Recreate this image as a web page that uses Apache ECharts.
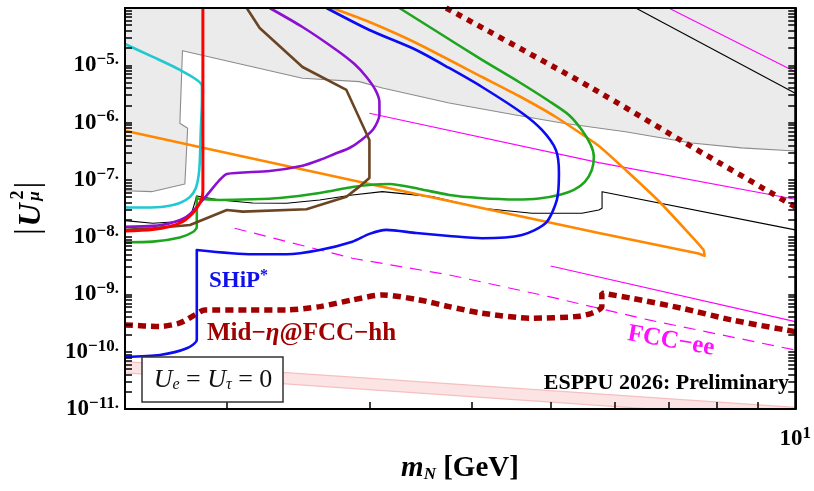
<!DOCTYPE html>
<html><head><meta charset="utf-8">
<script src="https://cdn.jsdelivr.net/npm/echarts@6/dist/echarts.min.js"></script>
<style>html,body{margin:0;padding:0;background:#fff}#c{width:814px;height:491px}</style>
</head><body><div id="c"></div>
<script>
// ---------- axis structure ----------
const xMin = 1.5, xMax = 10;
const yMin = 1e-11, yMax = 1e-4;
const xTickValues = [2, 3, 4, 5, 6, 7, 8, 9];
const yLabelExponents = [-11, -10, -9, -8, -7, -6, -5];
const xLabelValues = [10];

// ---------- curves: [m_N (GeV), |U_mu|^2] ----------
const greyBoundary = [[1.5,6.47e-8],[1.617,6.22e-8],[1.777,8.47e-8],[1.791,7.96e-7],[1.752,9.73e-7],[1.765,1.80e-5],[2.479,5.93e-6],[2.912,5.18e-6],[3.108,4.02e-6],[3.755,2.20e-6],[4.532,1.36e-6],[5.166,9.84e-7],[6.184,6.93e-7],[7.456,4.41e-7],[8.587,3.61e-7],[10,3.19e-7]];
const cyan = [[1.5,2.35e-5],[1.623,1.40e-5],[1.752,8.28e-6],[1.865,4.36e-6],[1.865,2.48e-6],[1.859,7.43e-7],[1.854,2.22e-7],[1.848,1.22e-7],[1.833,7.23e-8],[1.803,5.04e-8],[1.752,3.95e-8],[1.680,3.43e-8],[1.587,3.30e-8],[1.5,3.30e-8]];
const red = [[1.870,1e-4],[1.870,2.48e-6],[1.870,6.67e-8],[1.865,4.83e-8],[1.848,3.65e-8],[1.818,2.64e-8],[1.767,1.88e-8],[1.704,1.54e-8],[1.623,1.36e-8],[1.5,1.28e-8]];
const orange = [[1.5,7.22e-7],[2.996,8.48e-8],[5.735,1.18e-8],[7.605,5.19e-9],[7.736,4.70e-9],[7.714,5.98e-9],[7.333,1.34e-8],[6.794,4.28e-8],[6.188,1.49e-7],[5.735,3.91e-7],[5.079,1.25e-6],[4.575,2.91e-6],[4.121,6.25e-6],[3.421,2.45e-5],[2.996,5.70e-5],[2.698,1e-4]];
const green = [[3.261,1e-4],[3.650,3.66e-5],[4.121,1.24e-5],[4.575,5.11e-6],[4.980,2.38e-6],[5.269,1.36e-6],[5.466,7.43e-7],[5.607,4.06e-7],[5.655,2.51e-7],[5.622,1.49e-7],[5.512,9.19e-8],[5.344,6.67e-8],[5.123,5.45e-8],[4.840,4.73e-8],[4.537,4.55e-8],[4.087,4.83e-8],[3.755,5.45e-8],[3.450,6.94e-8],[3.170,8.48e-8],[2.996,8.15e-8],[2.855,7.52e-8],[2.602,5.91e-8],[2.323,4.83e-8],[2.153,4.58e-8],[1.961,4.46e-8],[1.843,4.73e-8],[1.838,5.13e-8],[1.838,1.51e-8],[1.818,1.23e-8],[1.752,9.88e-9],[1.623,8.34e-9],[1.5,8.15e-9]];
const purple = [[2.259,1e-4],[2.479,4.66e-5],[2.729,1.85e-5],[2.872,1.05e-5],[2.971,6.25e-6],[3.047,3.71e-6],[3.082,2.29e-6],[3.082,1.36e-6],[3.030,7.73e-7],[2.929,4.97e-7],[2.831,3.60e-7],[2.714,2.83e-7],[2.602,2.22e-7],[2.479,1.77e-7],[2.259,1.43e-7],[2.001,1.27e-7],[1.961,9.96e-8],[1.870,4.46e-8],[1.787,2.28e-8],[1.704,1.75e-8],[1.623,1.57e-8],[1.5,1.52e-8]];
const brown = [[2.117,1e-4],[2.196,4.48e-5],[2.479,9.34e-6],[2.807,3.71e-6],[2.996,4.97e-7],[2.996,1.08e-7],[2.912,7.61e-8],[2.807,5.09e-8],[2.507,3.07e-8],[2.093,2.79e-8],[2.001,2.98e-8],[1.803,1.63e-8],[1.623,1.43e-8],[1.5,1.34e-8]];
const ship = [[2.653,1e-4],[2.996,4.13e-5],[3.421,1.85e-5],[3.755,8.97e-6],[4.121,4.18e-6],[4.614,1.47e-6],[4.882,7.43e-7],[5.079,3.32e-7],[5.123,1.32e-7],[5.093,4.46e-8],[4.937,1.77e-8],[4.614,1.09e-8],[4.121,9.57e-9],[3.755,1.05e-8],[3.421,1.18e-8],[3.143,1.34e-8],[2.996,1.14e-8],[2.855,8.34e-9],[2.602,5.98e-9],[2.370,5.03e-9],[2.153,5.03e-9],[1.838,5.98e-9],[1.838,1.61e-10],[1.787,1.15e-10],[1.656,8.79e-11],[1.5,8.12e-11]];
const blackLow = [[1.5,1.94e-8],[1.623,1.75e-8],[1.752,1.87e-8],[1.813,2.75e-8],[1.838,5.24e-8],[1.961,4.46e-8],[2.153,3.95e-8],[2.370,3.90e-8],[2.602,4.46e-8],[2.855,5.45e-8],[3.108,6.22e-8],[3.578,5.09e-8],[4.121,3.19e-8],[4.747,2.61e-8],[5.466,2.61e-8],[5.735,2.98e-8],[5.788,3.19e-8],[5.788,6.22e-8],[10,1.34e-8]];
const blackTop = [[6.366,1e-4],[10,3.25e-6]];
const fccee1 = [[6.989,1e-4],[10,7.73e-6]];
const fccee2 = [[2.996,1.45e-6],[5.735,2.00e-7],[10,4.58e-8]];
const fccee3 = [[5.004,3.14e-9],[10,3.35e-10]];
const fcceeDashed = [[2.046,1.43e-8],[2.855,4.28e-9],[3.755,2.19e-9],[4.980,9.16e-10],[6.604,3.59e-10],[10,1.07e-10]];
const fcchhTop = [[3.723,1e-4],[5.622,4.02e-6],[7.456,3.80e-7],[10,3.37e-8]];
const fcchhMid = [[1.5,2.94e-10],[1.656,2.76e-10],[1.752,3.18e-10],[1.828,4.39e-10],[1.880,5.36e-10],[2.135,5.36e-10],[2.370,5.36e-10],[2.602,6.12e-10],[2.855,8.02e-10],[3.108,9.80e-10],[3.450,8.02e-10],[3.755,6.12e-10],[4.121,4.70e-10],[4.747,3.84e-10],[5.374,4.10e-10],[5.622,4.70e-10],[5.784,6.12e-10],[5.784,1.05e-9],[6.295,8.58e-10],[7.250,5.74e-10],[8.350,3.59e-10],[10,2.24e-10]];
const seesawUpper = [[1.5,6.72e-11],[10,1.07e-11]];
const seesawLower = [[1.5,4.27e-11],[10,6.72e-12]];

// ---------- derived tick lists ----------
const yTickValues = [];
yLabelExponents.forEach(e => { for (let m = 1; m <= 9; m++) yTickValues.push(Number((m * Math.pow(10, e)).toPrecision(3))); });
yTickValues.push(yMax);
const yLabelValues = yLabelExponents.map(e => Number(Math.pow(10, e).toPrecision(3)));

const SERIF = "'Liberation Serif','DejaVu Serif',serif";
const F = (spec) => spec + " 'Liberation Serif','DejaVu Serif',serif";

function line(name, data, color, width, extra) {
  return Object.assign({
    name, type: 'line', data, showSymbol: false, symbol: 'none', silent: true,
    lineStyle: { color, width, cap: 'butt', join: 'round' }, clip: true, z: 3
  }, extra || {});
}
function poly(points, style, z) {
  return {
    type: 'custom', coordinateSystem: 'cartesian2d', clip: true, silent: true, z,
    data: [[points[0][0], points[0][1]]],
    renderItem: (params, api) => ({ type: 'polygon', shape: { points: points.map(p => api.coord(p)) }, style })
  };
}
const ctr = { align: 'center', verticalAlign: 'middle', textAlign: 'center', textVerticalAlign: 'middle' };

const labelRich = {
  b: { fontFamily: SERIF, fontWeight: 'bold', fontSize: 23, color: '#000' },
  s: { fontFamily: SERIF, fontWeight: 'bold', fontSize: 17, color: '#000', padding: [0, 0, 11, 0] }
};

const chart = echarts.init(document.getElementById('c'), null, { renderer: 'canvas' });
chart.setOption({
  animation: false,
  backgroundColor: '#fff',
  grid: { left: 125, right: 17, top: 8, bottom: 82, show: true, borderColor: '#000', borderWidth: 2, backgroundColor: 'transparent', z: 10 },
  xAxis: [{
    type: 'log', logBase: 10, min: xMin, max: xMax,
    axisLine: { show: true, lineStyle: { color: '#000', width: 2 } },
    axisTick: { show: true, inside: true, length: 7, customValues: xTickValues, lineStyle: { color: '#000', width: 1.5 } },
    axisLabel: { show: true, customValues: xLabelValues, margin: 16, showMaxLabel: true,
      formatter: v => Math.abs(v - 10) < 1e-6 ? '{b|10}{s|1}' : '', rich: labelRich },
    splitLine: { show: false }, z: 10
  }],
  yAxis: [{
    type: 'log', logBase: 10, min: yMin, max: yMax, position: 'left',
    axisLine: { show: true, lineStyle: { color: '#000', width: 2 } },
    axisTick: { show: true, inside: true, length: 7, customValues: yTickValues, lineStyle: { color: '#000', width: 1.5 } },
    axisLabel: { show: true, customValues: yLabelValues, margin: 6, showMinLabel: true,
      formatter: v => { const e = Math.round(Math.log10(v)); return '{b|10}{s|\u2212' + (-e) + '.}'; }, rich: labelRich },
    splitLine: { show: false }, z: 10
  }, {
    type: 'log', logBase: 10, min: yMin, max: yMax, position: 'right',
    axisLine: { show: true, lineStyle: { color: '#000', width: 2 } },
    axisTick: { show: true, inside: true, length: 7, customValues: yTickValues, lineStyle: { color: '#000', width: 1.5 } },
    axisLabel: { show: false }, splitLine: { show: false }, z: 10
  }],
  series: [
    poly([[xMin, yMax]].concat(greyBoundary, [[xMax, yMax]]), { fill: '#ebebeb' }, 0),
    line('greyBoundary', greyBoundary, '#8c8c8c', 1.1, { z: 1 }),
    poly(seesawUpper.concat(seesawLower.slice().reverse()), { fill: 'rgba(250,185,185,0.38)', stroke: '#f6c0c0', lineWidth: 1.3 }, 1),
    line('blackLow', blackLow, '#000', 1.1),
    line('blackTop', blackTop, '#000', 1.1),
    line('fccee1', fccee1, '#ff00ff', 1.1),
    line('fccee2', fccee2, '#ff00ff', 1.1),
    line('fccee3', fccee3, '#ff00ff', 1.1),
    line('fcceeDashed', fcceeDashed, '#ff00ff', 1.2, { lineStyle: { color: '#ff00ff', width: 1.2, type: [12, 8] } }),
    line('orange', orange, '#ff8800', 2.6, { smooth: 0.15 }),
    line('green', green, '#1ea51e', 2.6, { smooth: 0.25 }),
    line('purple', purple, '#8c10d2', 2.6, { smooth: 0.25 }),
    line('brown', brown, '#6b4424', 2.6),
    line('cyan', cyan, '#22c8d0', 2.6, { smooth: 0.25 }),
    line('ship', ship, '#0c0cf2', 2.6, { smooth: 0.25, z: 4 }),
    line('red', red, '#ff0000', 3, { smooth: 0.3, z: 4 }),
    line('fcchhTop', fcchhTop, '#a00000', 5.5, { smooth: 0.2, z: 5, lineStyle: { color: '#a00000', width: 5.5, type: [6, 6], cap: 'butt' } }),
    line('fcchhMid', fcchhMid, '#a00000', 5.5, { smooth: 0.25, z: 5, lineStyle: { color: '#a00000', width: 5.5, type: [8, 5], cap: 'butt' } })
  ],
  graphic: [
    { type: 'rect', shape: { x: 142, y: 357, width: 141, height: 45 }, style: { fill: '#fff', stroke: '#333', lineWidth: 1.5 }, z: 20 },
    { type: 'text', x: 213, y: 380, z: 21, style: Object.assign({ text: '{i|U}{sb|e}{n| = }{i|U}{sb|\u03c4}{n| = 0}',
      rich: { i: { fontFamily: SERIF, fontStyle: 'italic', fontSize: 26, fill: '#111' }, sb: { fontFamily: SERIF, fontStyle: 'italic', fontSize: 16, fill: '#111', padding: [9, 0, 0, 0] }, n: { fontFamily: SERIF, fontSize: 26, fill: '#111' } } }, ctr) },
    { type: 'text', x: 209, y: 281, z: 21, style: { text: '{t|SHiP}{u|*}', align: 'left', verticalAlign: 'middle', textAlign: 'left', textVerticalAlign: 'middle',
      rich: { t: { fontFamily: SERIF, fontWeight: 'bold', fontSize: 23, fill: '#1010ee' }, u: { fontFamily: SERIF, fontWeight: 'bold', fontSize: 16, fill: '#1010ee', padding: [0, 0, 10, 0] } } } },
    { type: 'text', x: 207, y: 334, z: 21, style: { text: '{t|Mid\u2212}{e|\u03b7}{t|@FCC\u2212hh}', align: 'left', verticalAlign: 'middle', textAlign: 'left', textVerticalAlign: 'middle',
      rich: { t: { fontFamily: SERIF, fontWeight: 'bold', fontSize: 25, fill: '#a00000' }, e: { fontFamily: SERIF, fontWeight: 'bold', fontStyle: 'italic', fontSize: 25, fill: '#a00000' } } } },
    { type: 'text', x: 671, y: 341, rotation: -0.17, z: 21, style: Object.assign({ text: 'FCC\u2212ee', font: F('bold 25px'), fill: '#ff10ff' }, ctr) },
    { type: 'text', x: 789, y: 383, z: 21, style: { text: 'ESPPU 2026: Preliminary', font: F('bold 22px'), fill: '#000', align: 'right', verticalAlign: 'middle', textAlign: 'right', textVerticalAlign: 'middle' } },
    { type: 'text', x: 460, y: 469, z: 21, style: Object.assign({ text: '{m|m}{sb|N}{n| [GeV]}',
      rich: { m: { fontFamily: SERIF, fontWeight: 'bold', fontStyle: 'italic', fontSize: 29, fill: '#000' }, sb: { fontFamily: SERIF, fontWeight: 'bold', fontStyle: 'italic', fontSize: 17, fill: '#000', padding: [11, 0, 0, 0] }, n: { fontFamily: SERIF, fontWeight: 'bold', fontSize: 29, fill: '#000' } } }, ctr) },
    { type: 'group', x: 29, y: 208, rotation: Math.PI / 2, z: 21, children: [
      { type: 'text', x: -23.5, y: 0, style: Object.assign({ text: '|', font: F('34px'), fill: '#000' }, ctr) },
      { type: 'text', x: -7, y: 3, style: Object.assign({ text: 'U', font: F('italic bold 32px'), fill: '#000' }, ctr) },
      { type: 'text', x: 13, y: -11, style: Object.assign({ text: '2', font: F('bold 18px'), fill: '#000' }, ctr) },
      { type: 'text', x: 12, y: 6, style: Object.assign({ text: '\u03bc', font: F('italic bold 17px'), fill: '#000' }, ctr) },
      { type: 'text', x: 23, y: 0, style: Object.assign({ text: '|', font: F('34px'), fill: '#000' }, ctr) }
    ] }
  ]
});
</script>
</body></html>
